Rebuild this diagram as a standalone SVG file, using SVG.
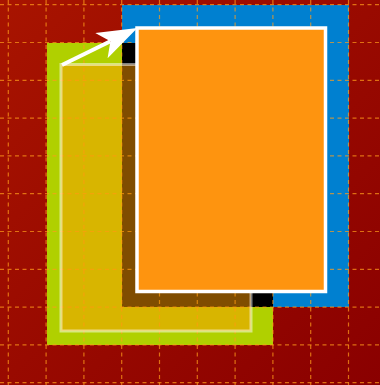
<svg xmlns="http://www.w3.org/2000/svg" width="380" height="385" viewBox="0 0 380 385">
<style>
.grid line{stroke:#ff9c1a;stroke-opacity:0.7;stroke-width:1.2;stroke-dasharray:4 3.5}
.conn{stroke:#fff;stroke-width:4;fill:none}
</style>
<defs>
<linearGradient id="bg" x1="0" y1="0" x2="1" y2="1">
<stop offset="0" stop-color="#a81400"/>
<stop offset="1" stop-color="#8a0000"/>
</linearGradient>
<marker id="ah" markerUnits="userSpaceOnUse" markerWidth="40" markerHeight="28" viewBox="0 0 40 28" refX="10" refY="14" orient="auto">
<path d="M0,0 L40,14 L0,28 L10,14 z" fill="#fff"/>
</marker>
</defs>
<rect x="0" y="0" width="380" height="385" fill="url(#bg)"/>
<g id="green"><rect x="47" y="43" width="226" height="302" fill="#b0d000"/></g>
<g id="blue"><rect x="122" y="5" width="227" height="302" fill="#0080d0"/></g>
<g id="overlap"><rect x="122" y="43" width="151" height="264" fill="#000"/></g>
<g class="grid">
<line x1="8.3" y1="0" x2="8.3" y2="385"/>
<line x1="46.1" y1="0" x2="46.1" y2="385"/>
<line x1="83.9" y1="0" x2="83.9" y2="385"/>
<line x1="121.7" y1="0" x2="121.7" y2="385"/>
<line x1="159.5" y1="0" x2="159.5" y2="385"/>
<line x1="197.3" y1="0" x2="197.3" y2="385"/>
<line x1="235.1" y1="0" x2="235.1" y2="385"/>
<line x1="272.9" y1="0" x2="272.9" y2="385"/>
<line x1="310.7" y1="0" x2="310.7" y2="385"/>
<line x1="348.5" y1="0" x2="348.5" y2="385"/>
<line x1="0" y1="4.7" x2="380" y2="4.7"/>
<line x1="0" y1="42.5" x2="380" y2="42.5"/>
<line x1="0" y1="80.3" x2="380" y2="80.3"/>
<line x1="0" y1="118.1" x2="380" y2="118.1"/>
<line x1="0" y1="155.9" x2="380" y2="155.9"/>
<line x1="0" y1="193.7" x2="380" y2="193.7"/>
<line x1="0" y1="231.5" x2="380" y2="231.5"/>
<line x1="0" y1="269.3" x2="380" y2="269.3"/>
<line x1="0" y1="307.1" x2="380" y2="307.1"/>
<line x1="0" y1="344.9" x2="380" y2="344.9"/>
<line x1="0" y1="382.7" x2="380" y2="382.7"/>
</g>
<g id="ghost"><rect x="61" y="64.5" width="190" height="266.5" fill="#ff9900" fill-opacity="0.5" stroke="#fff" stroke-opacity="0.5" stroke-width="3"/></g>
<g id="card"><rect x="137" y="28" width="188.5" height="263.5" fill="#fe940f" stroke="#fff" stroke-width="3.5"/></g>
<g id="connectors"><line class="conn" x1="62" y1="65" x2="110.4" y2="41.3" marker-end="url(#ah)"/></g>
</svg>
